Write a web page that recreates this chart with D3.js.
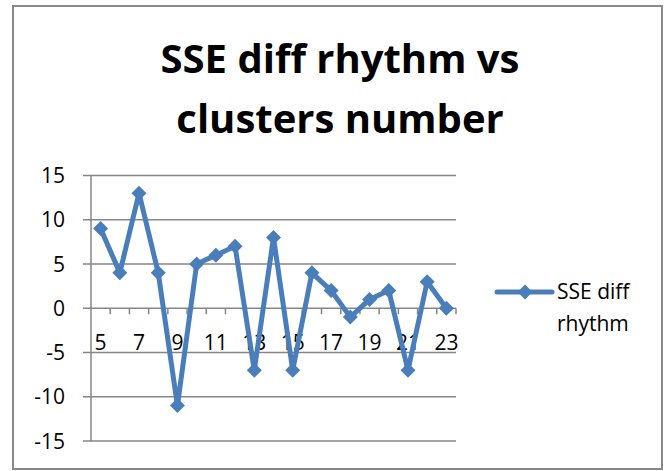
<!DOCTYPE html>
<html><head><meta charset="utf-8">
<script src="https://cdn.jsdelivr.net/npm/d3@7"></script>
<style>body{margin:0;background:#fff}svg{display:block}text{font-family:"Open Sans",sans-serif}</style>
</head><body>
<svg id="c" width="664" height="471"></svg>
<script>
const categories = [5,6,7,8,9,10,11,12,13,14,15,16,17,18,19,20,21,22,23];
const values = [9,4,13,4,-11,5,6,7,-7,8,-7,4,2,-1,1,2,-7,3,0];
const yTicks = [-15,-10,-5,0,5,10,15];
const titleLines = ["SSE diff rhythm vs","clusters number"];
const seriesName = ["SSE diff","rhythm"];

const svg = d3.select("#c");
const blue = "#4a7ebb", grid = "#868686";
svg.append("rect").attr("x",13).attr("y",6).attr("width",649).attr("height",463)
  .attr("fill","#fff").attr("stroke","#888").attr("stroke-width",2);

const x = d3.scaleBand().domain(categories).range([91,456]).padding(0);
const y = d3.scaleLinear().domain([-15,15]).range([441,175.5]);

svg.append("g").selectAll("line").data(yTicks).join("line")
  .attr("x1",83).attr("x2",456).attr("y1",d=>y(d)).attr("y2",d=>y(d))
  .attr("stroke",grid).attr("stroke-width",1.5);
svg.append("line").attr("x1",91).attr("x2",91).attr("y1",y(15)).attr("y2",y(-15))
  .attr("stroke",grid).attr("stroke-width",1.5);
svg.append("g").selectAll("text").data(yTicks).join("text")
  .attr("x",65).attr("y",d=>y(d)).attr("dy","0.36em").attr("text-anchor","end")
  .attr("font-size",21).attr("fill","#000").text(d=>d);
const bounds = categories.map(c=>x(c)).concat([x(categories[categories.length-1])+x.bandwidth()]);
svg.append("g").selectAll("line").data(bounds.slice(1)).join("line")
  .attr("x1",d=>d).attr("x2",d=>d).attr("y1",y(0)).attr("y2",y(0)+6)
  .attr("stroke",grid).attr("stroke-width",1.5);
svg.append("g").selectAll("text").data(categories.filter((c,i)=>i%2===0)).join("text")
  .attr("x",d=>x(d)+x.bandwidth()/2).attr("y",y(0)+42).attr("text-anchor","middle")
  .attr("font-size",21).attr("fill","#000").text(d=>d);

const cx = d=>x(d)+x.bandwidth()/2;
const line = d3.line().x((d,i)=>cx(categories[i])).y(d=>y(d));
svg.append("path").datum(values).attr("d",line).attr("fill","none")
  .attr("stroke",blue).attr("stroke-width",5).attr("stroke-linejoin","round").attr("stroke-linecap","round");
const diamond = (px,py,r)=>`M${px},${py-r}L${px+r},${py}L${px},${py+r}L${px-r},${py}Z`;
svg.append("g").selectAll("path").data(values).join("path")
  .attr("d",(d,i)=>diamond(cx(categories[i]),y(d),7.5)).attr("fill",blue);

svg.append("g").selectAll("text").data(titleLines).join("text")
  .attr("x",340).attr("y",(d,i)=>73+i*60).attr("text-anchor","middle")
  .attr("font-size",40).attr("font-weight","bold").attr("fill","#000").text(d=>d);

svg.append("line").attr("x1",497).attr("x2",552).attr("y1",292).attr("y2",292)
  .attr("stroke",blue).attr("stroke-width",5).attr("stroke-linecap","round");
svg.append("path").attr("d",diamond(525,292,7.5)).attr("fill",blue);
svg.append("g").selectAll("text").data(seriesName).join("text")
  .attr("x",557).attr("y",(d,i)=>299+i*32).attr("font-size",21).attr("fill","#000").text(d=>d);
</script>
</body></html>
